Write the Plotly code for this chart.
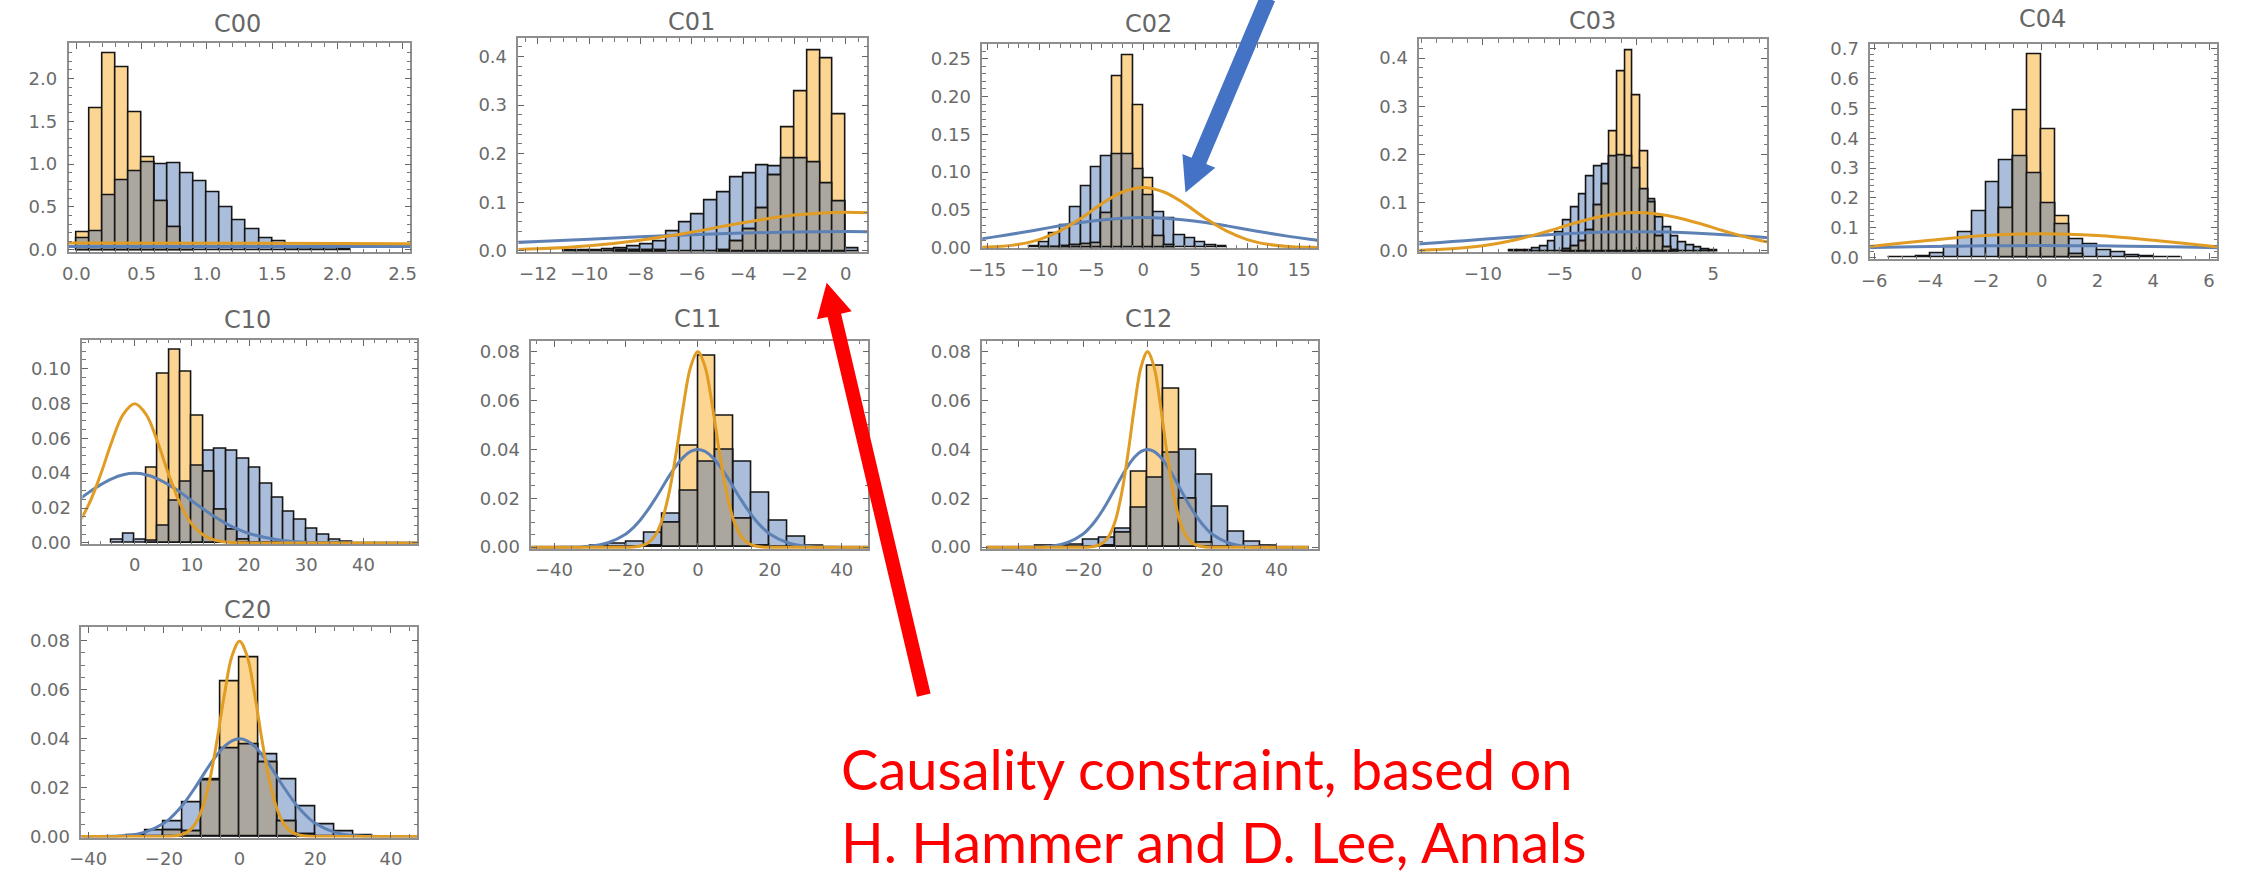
import math
import plotly.graph_objects as go

W, H = 2242, 875

# ---------------- histogram data (probability density per bin) ----------------
# each panel: first bin edge, bin width, blue densities, orange densities
c00_bins = (0.0, 0.1)
c00_blue = [0.13, 0.22, 0.64, 0.81, 0.92, 1.02, 1.00, 1.01, 0.89, 0.80, 0.67,
            0.50, 0.34, 0.24, 0.14, 0.10, 0.02, 0.02, 0.02, 0.02, 0.01]
c00_orange = [0.20, 1.65, 2.29, 2.13, 1.61, 1.08, 0.57, 0.26, 0.03]

c01_bins = (-11.0, 0.5)
c01_blue = [0.001, 0.002, 0.002, 0.004, 0.005, 0.009, 0.013, 0.020, 0.040, 0.059,
            0.076, 0.103, 0.121, 0.152, 0.160, 0.176, 0.174, 0.191, 0.191, 0.183,
            0.138, 0.101, 0.005]
c01_orange = [0, 0, 0, 0, 0.001, 0.002, 0.002, 0.001, 0, 0,
              0, 0, 0.002, 0.019, 0.045, 0.088, 0.155, 0.254, 0.328, 0.412,
              0.395, 0.280, 0]

c02_bins = (-11.0, 1.0)
c02_blue = [0.002, 0.007, 0.019, 0.030, 0.053, 0.081, 0.107, 0.121, 0.124, 0.123,
            0.104, 0.070, 0.047, 0.039, 0.016, 0.012, 0.007, 0.0035, 0.0013]
c02_orange = [0, 0.001, 0.001, 0.002, 0.003, 0.004, 0.006, 0.045, 0.227, 0.255,
              0.189, 0.092, 0.015, 0.003]

c03_bins = (-8.25, 0.5)
c03_blue = [0.001, 0.002, 0.002, 0.005, 0.010, 0.020, 0.039, 0.063, 0.090, 0.118,
            0.155, 0.175, 0.180, 0.196, 0.198, 0.196, 0.172, 0.128, 0.107, 0.070,
            0.049, 0.030, 0.018, 0.011, 0.007, 0.004, 0.002]
c03_orange = [0, 0, 0, 0, 0, 0, 0, 0.004, 0.009, 0.019,
              0.043, 0.094, 0.138, 0.248, 0.373, 0.417, 0.323, 0.206, 0.100, 0.030,
              0.008, 0.002]

c04_bins = (-5.5, 0.5)
c04_blue = [0.002, 0.002, 0.003, 0.014, 0.036, 0.083, 0.154, 0.253, 0.326, 0.341,
            0.282, 0.182, 0.110, 0.062, 0.044, 0.025, 0.018, 0.009, 0.003, 0.002, 0.002]
c04_orange = [0, 0, 0, 0, 0, 0, 0, 0, 0.166, 0.493,
              0.682, 0.429, 0.139, 0.010]

c10_bins = (-4.0, 2.0)
c10_blue = [0.002, 0.005, 0.002, 0.0015, 0.010, 0.024, 0.035, 0.044, 0.053, 0.054,
            0.053, 0.048, 0.043, 0.034, 0.026, 0.018, 0.013, 0.008, 0.0047, 0.0019, 0.0008]
c10_orange = [0, 0, 0, 0.043, 0.097, 0.111, 0.098, 0.073, 0.041, 0.019,
              0.0075, 0.002]

c11_bins = (-30.0, 5.0)
c11_blue = [0.0007, 0.0013, 0.0024, 0.0058, 0.0135, 0.0229, 0.0348, 0.0399, 0.0349,
            0.0223, 0.0107, 0.0041, 0.0007]
c11_orange = [0, 0, 0, 0.0007, 0.0098, 0.0416, 0.0780, 0.0535, 0.0118, 0.0004]

c12_bins = (-35.0, 5.0)
c12_blue = [0.0007, 0.0004, 0.0010, 0.0030, 0.0040, 0.0075, 0.0160, 0.0285, 0.0385,
            0.0399, 0.0294, 0.0165, 0.0064, 0.0021, 0.0007]
c12_orange = [0, 0, 0, 0, 0.0007, 0.0060, 0.0310, 0.0742, 0.0649, 0.0198, 0.0017]

c20_bins = (-30.0, 5.0)
c20_blue = [0.0005, 0.0027, 0.0063, 0.0139, 0.0235, 0.0358, 0.0375, 0.0334, 0.0235,
            0.0121, 0.0050, 0.0019, 0.0005]
c20_orange = [0, 0, 0.0023, 0.0020, 0.0230, 0.0633, 0.0730, 0.0302, 0.0060, 0.0007]

# ---------------- prior curves (same in every panel) ----------------
prior_x = [-50, -40, -30, -25, -20, -18, -16, -14, -12, -10, -8, -6, -4, -2, 0,
           2, 4, 6, 8, 10, 12, 14, 16, 18, 20, 25, 30, 40, 50]
prior_orange = [0, 0, 0, 0, 0, 0.0001, 0.0005, 0.0016, 0.0045, 0.0108, 0.0222, 0.0388,
                0.0580, 0.0737, 0.0798, 0.0737, 0.0580, 0.0388, 0.0222, 0.0108, 0.0045,
                0.0016, 0.0005, 0.0001, 0, 0, 0, 0, 0]
prior_blue = [0, 0, 0.0004, 0.0018, 0.0054, 0.0079, 0.0111, 0.0150, 0.0194, 0.0242,
              0.0290, 0.0333, 0.0368, 0.0391, 0.0399, 0.0391, 0.0368, 0.0333, 0.0290,
              0.0242, 0.0194, 0.0150, 0.0111, 0.0079, 0.0054, 0.0018, 0.0004, 0, 0]

annotation_lines = ["Causality constraint, based on", "H. Hammer and D. Lee, Annals"]

# ---------------- styling ----------------
BLUE_FILL = "#AABDDA"
ORANGE_FILL = "#FDD592"
OVERLAP_FILL = "#ABA79F"
BLUE_LINE = "#5E81B5"
ORANGE_LINE = "#E19C24"
EDGE = "#151515"
TICK_FONT = dict(family="DejaVu Sans", size=18, color="#6b6b6b")
TITLE_FONT = dict(family="DejaVu Sans", size=24, color="#666666")

# panel layout: frame box in pixels (left, right, top, bottom), title centre,
# axis ranges, major / minor tick steps and tick label formats
panels = [
    dict(name="C00", bins=c00_bins, blue=c00_blue, orange=c00_orange,
         box=(55, 400, 38, 251), title=(226, 18),
         xr=(-0.06, 2.56), yr=(-0.03, 2.41), xd=0.5, xm=0.1, yd=0.5, ym=0.1,
         xf=".1f", yf=".1f"),
    dict(name="C01", bins=c01_bins, blue=c01_blue, orange=c01_orange,
         box=(509, 861, 33, 251), title=(684, 16),
         xr=(-12.76, 0.84), yr=(-0.003, 0.437), xd=2, xm=0.5, yd=0.1, ym=0.02,
         xf="d", yf=".1f"),
    dict(name="C02", bins=c02_bins, blue=c02_blue, orange=c02_orange,
         box=(977, 1315, 39, 247), title=(1145, 18),
         xr=(-15.48, 16.74), yr=(-0.001, 0.269), xd=5, xm=1, yd=0.05, ym=0.01,
         xf="d", yf=".2f"),
    dict(name="C03", bins=c03_bins, blue=c03_blue, orange=c03_orange,
         box=(1418, 1769, 34, 251), title=(1593, 15),
         xr=(-14.14, 8.52), yr=(-0.003, 0.439), xd=5, xm=1, yd=0.1, ym=0.02,
         xf="d", yf=".1f"),
    dict(name="C04", bins=c04_bins, blue=c04_blue, orange=c04_orange,
         box=(1873, 2223, 39, 258), title=(2047, 13),
         xr=(-6.14, 6.29), yr=(-0.006, 0.715), xd=2, xm=0.5, yd=0.1, ym=0.02,
         xf="d", yf=".1f"),
    dict(name="C10", bins=c10_bins, blue=c10_blue, orange=c10_orange,
         box=(69, 407, 340, 548), title=(236, 320),
         xr=(-9.14, 49.44), yr=(-0.0006, 0.1165), xd=10, xm=2, yd=0.02, ym=0.005,
         xf="d", yf=".2f"),
    dict(name="C11", bins=c11_bins, blue=c11_blue, orange=c11_orange,
         box=(522, 862, 341, 553), title=(690, 319),
         xr=(-46.3, 47.4), yr=(-0.0007, 0.0843), xd=20, xm=5, yd=0.02, ym=0.005,
         xf="d", yf=".2f"),
    dict(name="C12", bins=c12_bins, blue=c12_blue, orange=c12_orange,
         box=(977, 1316, 341, 553), title=(1145, 319),
         xr=(-51.3, 53.0), yr=(-0.0007, 0.0843), xd=20, xm=5, yd=0.02, ym=0.005,
         xf="d", yf=".2f"),
    dict(name="C20", bins=c20_bins, blue=c20_blue, orange=c20_orange,
         box=(68, 407, 633, 847), title=(236, 615),
         xr=(-41.8, 47.0), yr=(-0.0004, 0.0854), xd=20, xm=5, yd=0.02, ym=0.005,
         xf="d", yf=".2f"),
]


def paper_x(px):
    return px / W


def paper_y(py):
    return 1 - py / H


fig = go.Figure()
axes = {}
annotations = []

for i, p in enumerate(panels):
    suffix = "" if i == 0 else str(i + 1)
    xa, ya = "x" + suffix, "y" + suffix
    start, width = p["bins"]
    nb = max(len(p["blue"]), len(p["orange"]))
    blue = list(p["blue"]) + [0] * (nb - len(p["blue"]))
    orange = list(p["orange"]) + [0] * (nb - len(p["orange"]))
    overlap = [min(b, o) for b, o in zip(blue, orange)]
    centers = [start + width * (k + 0.5) for k in range(nb)]

    for vals, fill in ((blue, BLUE_FILL), (orange, ORANGE_FILL), (overlap, OVERLAP_FILL)):
        xs = [c for c, v in zip(centers, vals) if v > 0]
        ys = [v for v in vals if v > 0]
        fig.add_trace(go.Bar(
            x=xs, y=ys, width=width, xaxis=xa, yaxis=ya,
            marker=dict(color=fill, line=dict(color=EDGE, width=1.6)),
            showlegend=False, hoverinfo="skip"))

    for ys, col in ((prior_blue, BLUE_LINE), (prior_orange, ORANGE_LINE)):
        fig.add_trace(go.Scatter(
            x=prior_x, y=ys, mode="lines", xaxis=xa, yaxis=ya,
            line=dict(color=col, width=3, shape="spline"),
            showlegend=False, hoverinfo="skip"))

    left, right, top, bottom = p["box"]
    common = dict(showgrid=False, zeroline=False, showline=True, mirror="allticks",
                  linecolor="#8f8f8f", linewidth=1.6, ticks="inside", ticklen=6,
                  tickwidth=1.2, tickcolor="#666666", tickfont=TICK_FONT,
                  fixedrange=True, tick0=0)
    axes["xaxis" + suffix] = dict(
        common, domain=[paper_x(left), paper_x(right)], range=list(p["xr"]),
        anchor=ya, dtick=p["xd"], tickformat=p["xf"], ticklabelstandoff=4,
        minor=dict(dtick=p["xm"], tick0=0, ticks="inside", ticklen=3.5,
                   tickwidth=1, tickcolor="#777777"))
    axes["yaxis" + suffix] = dict(
        common, domain=[paper_y(bottom), paper_y(top)], range=list(p["yr"]),
        anchor=xa, dtick=p["yd"], tickformat=p["yf"], ticklabelstandoff=6,
        minor=dict(dtick=p["ym"], tick0=0, ticks="inside", ticklen=3.5,
                   tickwidth=1, tickcolor="#777777"))

    tx, ty = p["title"]
    annotations.append(dict(text=p["name"], x=paper_x(tx), y=paper_y(ty),
                            xref="paper", yref="paper", xanchor="center",
                            yanchor="middle", showarrow=False, font=TITLE_FONT))


def arrow_path(tail, tip, shaft_w, head_len, head_w):
    dx, dy = tip[0] - tail[0], tip[1] - tail[1]
    L = math.hypot(dx, dy)
    ux, uy = dx / L, dy / L
    nx, ny = -uy, ux
    bx, by = tip[0] - ux * head_len, tip[1] - uy * head_len
    pts = [
        (tail[0] + nx * shaft_w / 2, tail[1] + ny * shaft_w / 2),
        (bx + nx * shaft_w / 2, by + ny * shaft_w / 2),
        (bx + nx * head_w / 2, by + ny * head_w / 2),
        tip,
        (bx - nx * head_w / 2, by - ny * head_w / 2),
        (bx - nx * shaft_w / 2, by - ny * shaft_w / 2),
        (tail[0] - nx * shaft_w / 2, tail[1] - ny * shaft_w / 2),
    ]
    return "M " + " L ".join(f"{paper_x(x):.5f},{paper_y(y):.5f}" for x, y in pts) + " Z"


shapes = [
    dict(type="path", xref="paper", yref="paper", layer="above",
         path=arrow_path((1265, -8), (1182, 190), 16, 35, 36),
         fillcolor="#4472C4", line=dict(width=0)),
    dict(type="path", xref="paper", yref="paper", layer="above",
         path=arrow_path((918, 702), (820, 282), 14, 34, 36),
         fillcolor="#FF0000", line=dict(width=0)),
]

# two-line red note, one text block so the lines share a box
RED_FONT = dict(family="Lato", size=56, color="#FF0000")
annotations.append(dict(text="<br>".join(annotation_lines),
                        x=paper_x(832), y=paper_y(741), xref="paper", yref="paper",
                        xanchor="left", yanchor="top", align="left",
                        showarrow=False, font=RED_FONT))

fig.update_layout(
    width=W, height=H, margin=dict(l=0, r=0, t=0, b=0),
    paper_bgcolor="white", plot_bgcolor="white",
    barmode="overlay", bargap=0, showlegend=False,
    annotations=annotations, shapes=shapes, **axes)

fig.write_html("out.html", config={"displayModeBar": False})
